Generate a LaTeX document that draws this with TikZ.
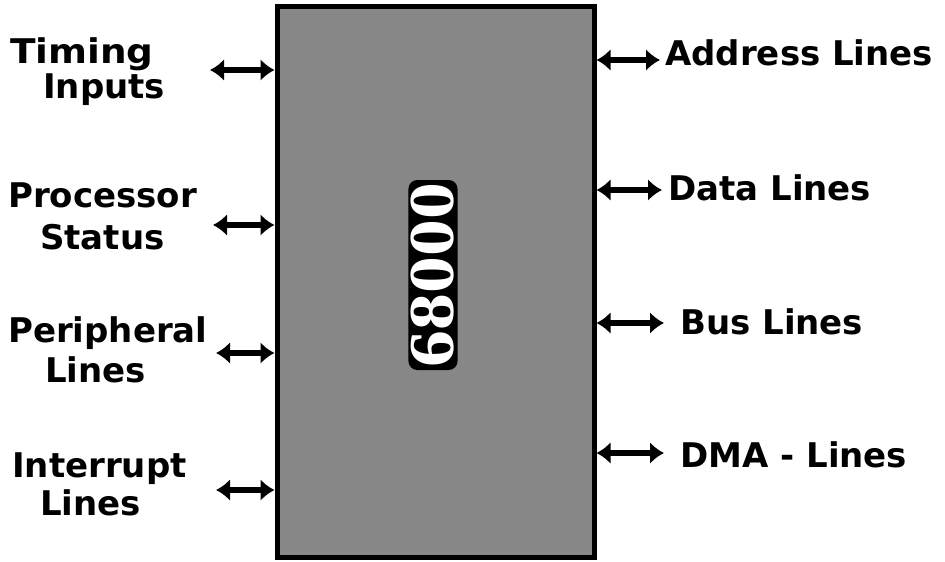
\documentclass[tikz,border=0pt]{standalone}
\usepackage{fontspec}
\setmainfont{DejaVu Sans}
\newfontfamily\numfont{Liberation Serif}
\usetikzlibrary{arrows.meta}
\tikzset{
  lbl/.style={anchor=base west, inner sep=0pt, font=\fontsize{34}{38}\selectfont\bfseries},
  bus/.style={line width=6.5pt, {Latex[length=14pt,width=22pt]}-{Latex[length=14pt,width=22pt]}},
  chip/.style={draw=black, line width=5pt, fill=black!47},
}
\begin{document}
\begin{tikzpicture}[x=1pt,y=-1pt]
\useasboundingbox (0,0) rectangle (945,562);
\fill[white] (0,0) rectangle (945,562);
\node[chip, minimum width=317pt, minimum height=551pt, inner sep=0pt] (cpu) at (435.5,281.5) {};
\node[fill=black, text=white, rounded corners=9pt, rotate=90, inner sep=3pt,
  font=\numfont\fontsize{64}{66}\selectfont\bfseries] (num) at (433,275) {\scalebox{1.15}[1]{68000}};
% left side
\node[lbl] (t1) at (10,63) {\scalebox{1.1}[1]{Timing}};
\node[lbl] (t2) at (43,98) {Inputs};
\node[lbl] (p1) at (8,207) {Processor};
\node[lbl] (p2) at (40,249) {Status};
\node[lbl] (q1) at (8,342) {Peripheral};
\node[lbl] (q2) at (45,382) {Lines};
\node[lbl] (i1) at (12,477) {Interrupt};
\node[lbl] (i2) at (40,515) {Lines};
% right side
\node[lbl] (a) at (665,65) {Address Lines};
\node[lbl] (d) at (668,200) {Data Lines};
\node[lbl] (b) at (680,334) {Bus Lines};
\node[lbl] (m) at (680,467) {DMA - Lines};
% connectors
\coordinate (L1) at (210,70);  \coordinate (L1b) at (cpu.west |- L1);
\coordinate (L2) at (213,225); \coordinate (L2b) at (cpu.west |- L2);
\coordinate (L3) at (216,353); \coordinate (L3b) at (cpu.west |- L3);
\coordinate (L4) at (216,490); \coordinate (L4b) at (cpu.west |- L4);
\coordinate (R1) at (660,60);  \coordinate (R1b) at (cpu.east |- R1);
\coordinate (R2) at (662,190); \coordinate (R2b) at (cpu.east |- R2);
\coordinate (R3) at (664,323); \coordinate (R3b) at (cpu.east |- R3);
\coordinate (R4) at (664,453); \coordinate (R4b) at (cpu.east |- R4);
\draw[bus] (L1) -- (L1b);
\draw[bus] (L2) -- (L2b);
\draw[bus] (L3) -- (L3b);
\draw[bus] (L4) -- (L4b);
\draw[bus] (R1b) -- (R1);
\draw[bus] (R2b) -- (R2);
\draw[bus] (R3b) -- (R3);
\draw[bus] (R4b) -- (R4);
\end{tikzpicture}
\end{document}
